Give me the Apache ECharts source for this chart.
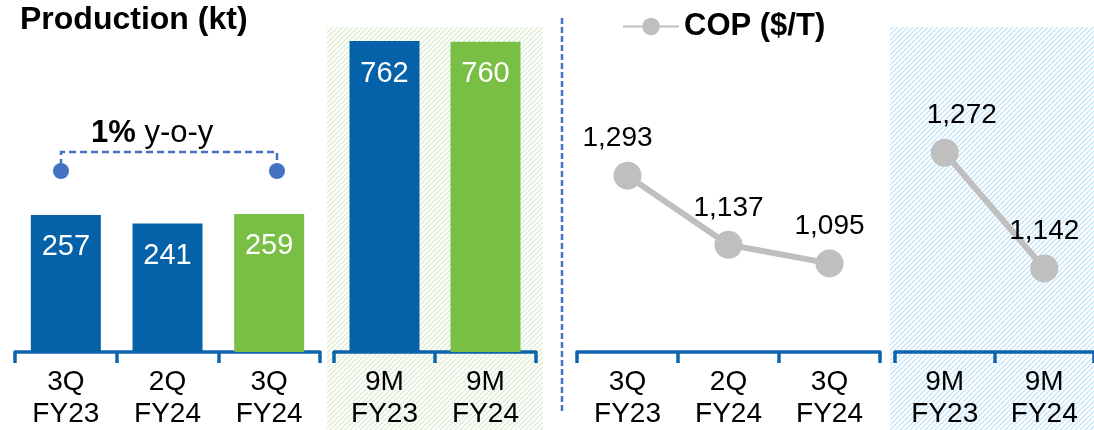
<!DOCTYPE html>
<html>
<head>
<meta charset="utf-8">
<script src="https://cdn.jsdelivr.net/npm/echarts@6/dist/echarts.min.js"></script>
<style>
  html, body { margin: 0; padding: 0; background: #fff; }
  #main { width: 1094px; height: 430px; }
</style>
</head>
<body>
<div id="main"></div>
<script>
// data
const quarterCats = ['3Q\nFY23', '2Q\nFY24', '3Q\nFY24'];
const ytdCats = ['9M\nFY23', '9M\nFY24'];
const prodQuarter = [257, 241, 259];
const prodYtd = [762, 760];
const copQuarter = [1293, 1137, 1095];
const copYtd = [1272, 1142];

const BLUE = '#0562a8';
const GREEN = '#79bf45';
const AXIS = '#0d64ad';
const DASH = '#4472c4';
const GREY = '#bfbfbf';
const FONT = 'Liberation Sans, Arial, sans-serif';

// small tile for the hatched backgrounds
function hatch(color) {
  const c = document.createElement('canvas');
  c.width = 5; c.height = 5;
  const ctx = c.getContext('2d');
  ctx.strokeStyle = color;
  ctx.lineWidth = 1.3;
  ctx.beginPath();
  ctx.moveTo(0, 5); ctx.lineTo(5, 0);
  ctx.moveTo(-1, 1); ctx.lineTo(1, -1);
  ctx.moveTo(4, 6); ctx.lineTo(6, 4);
  ctx.stroke();
  return c;
}

function catAxis(idx, data) {
  return {
    type: 'category', gridIndex: idx, data: data, boundaryGap: true,
    axisLine: { lineStyle: { color: AXIS, width: 3.5 } },
    axisTick: { show: true, inside: false, length: 11, lineStyle: { color: AXIS, width: 3.5 } },
    axisLabel: { color: '#000', fontSize: 28, lineHeight: 32, margin: 14, fontFamily: FONT, interval: 0 }
  };
}
function valAxis(idx, min, max) {
  return { type: 'value', gridIndex: idx, min: min, max: max, show: false, splitLine: { show: false } };
}

function barSeries(idx, data, colors) {
  return {
    type: 'bar', xAxisIndex: idx, yAxisIndex: idx, barWidth: 70,
    data: data.map((v, i) => ({ value: v, itemStyle: { color: colors[i] } })),
    label: { show: true, position: 'insideTop', distance: 18, color: '#fff', fontSize: 29, fontFamily: FONT },
    silent: true
  };
}

const labelShift = { 2: [-10, 0], 3: [17, 0] };
function lineSeries(idx, data) {
  return {
    name: 'COP ($/T)', type: 'line', xAxisIndex: idx, yAxisIndex: idx,
    data: data.map((v, i) => ({
      value: v,
      label: { offset: (i === 0 && labelShift[idx]) ? labelShift[idx] : [0, 0] }
    })),
    symbol: 'circle', symbolSize: 28,
    lineStyle: { color: GREY, width: 6 },
    itemStyle: { color: GREY },
    label: {
      show: true, position: 'top', distance: 9, color: '#000', fontSize: 28, fontFamily: FONT,
      formatter: p => p.value.toLocaleString('en-US')
    },
    silent: true
  };
}

const myChart = echarts.init(document.getElementById('main'));
myChart.setOption({
  animation: false,
  title: {
    text: 'Production (kt)', left: 15, top: -1,
    textStyle: { fontSize: 32, fontWeight: 'bold', color: '#000', fontFamily: FONT }
  },
  legend: {
    data: ['COP ($/T)'], left: 617, top: 6, itemWidth: 56, itemHeight: 22, itemGap: 4,
    textStyle: { fontSize: 31, fontWeight: 'bold', color: '#000', fontFamily: FONT }
  },
  grid: [
    { left: 15, width: 305, top: 30, bottom: 77 },
    { left: 334, width: 202, top: 30, bottom: 77 },
    { left: 577, width: 303, top: 30, bottom: 77 },
    { left: 895, width: 203, top: 30, bottom: 77 }
  ],
  xAxis: [catAxis(0, quarterCats), catAxis(1, ytdCats), catAxis(2, quarterCats), catAxis(3, ytdCats)],
  yAxis: [valAxis(0, 0, 604), valAxis(1, 0, 789), valAxis(2, 895, 1622), valAxis(3, 1048, 1410)],
  series: [
    barSeries(0, prodQuarter, [BLUE, BLUE, GREEN]),
    barSeries(1, prodYtd, [BLUE, GREEN]),
    lineSeries(2, copQuarter),
    lineSeries(3, copYtd)
  ],
  graphic: [
    { type: 'rect', z: -10, shape: { x: 327, y: 27, width: 216, height: 403 },
      style: { fill: { image: hatch('#dcebd2'), repeat: 'repeat' } } },
    { type: 'rect', z: -10, shape: { x: 890, y: 27, width: 204, height: 403 },
      style: { fill: { image: hatch('#c4e5f8'), repeat: 'repeat' } } },
    // divider between the two panels
    { type: 'line', shape: { x1: 562, y1: 18, x2: 562, y2: 412 },
      style: { stroke: DASH, lineWidth: 2.5, lineDash: [6, 3] } },
    // y-o-y bracket
    { type: 'polyline', shape: { points: [[61, 166], [61, 152], [277, 152], [277, 166]] },
      style: { stroke: DASH, lineWidth: 2.5, lineDash: [7, 4], fill: null } },
    { type: 'circle', shape: { cx: 61, cy: 171, r: 8 }, style: { fill: DASH } },
    { type: 'circle', shape: { cx: 277, cy: 171, r: 8 }, style: { fill: DASH } },
    { type: 'text', left: 91, top: 118,
      style: {
        text: '{b|1%} y-o-y', fill: '#000', font: '31px ' + FONT,
        rich: { b: { fontWeight: 'bold', fontSize: 31, fontFamily: FONT, fill: '#000' } }
      } }
  ]
});
window.addEventListener('resize', () => {
  myChart.resize();
});
</script>
</body>
</html>
